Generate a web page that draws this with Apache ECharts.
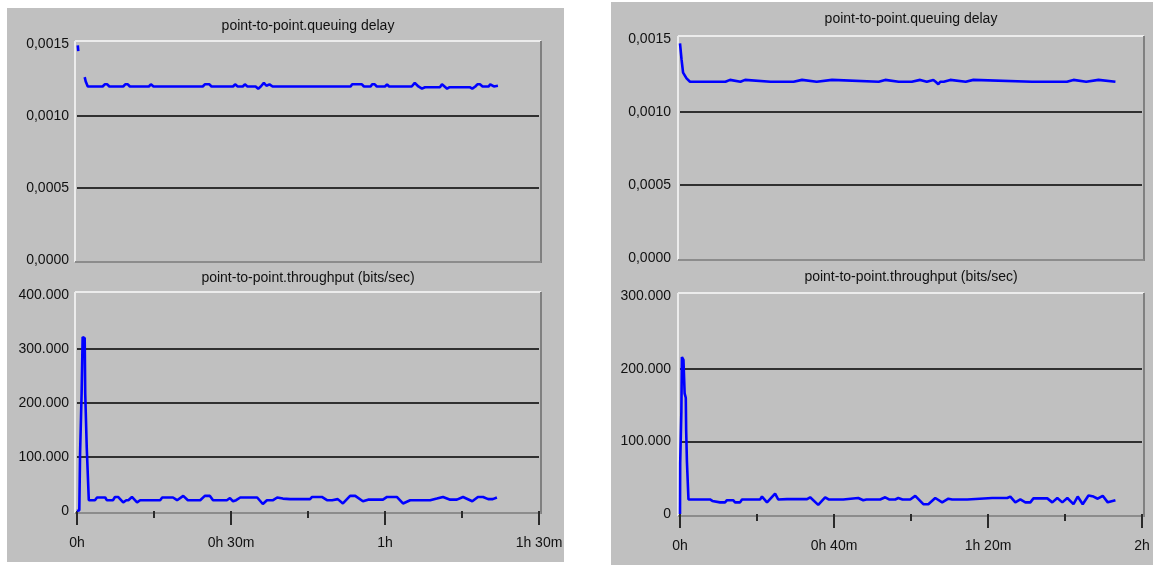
<!DOCTYPE html>
<html>
<head>
<meta charset="utf-8">
<title>point-to-point statistics</title>
<script src="https://cdn.jsdelivr.net/npm/echarts@6/dist/echarts.min.js"></script>
<style>
  html, body { margin: 0; padding: 0; background: #ffffff; }
  #chart { width: 1156px; height: 565px; }
</style>
</head>
<body>
<div id="chart"></div>
<script>
// ---- data: [minutes, value] ----
const delayLeft = [
  [0.15,0.00149],[0.25,0.00145],[0.6,null],
  [1.5,0.00127],[1.7,0.00124],[2.1,0.001205],
  [5.0,0.001205],[5.4,0.00122],[5.9,0.00122],[6.3,0.001205],
  [9.0,0.001205],[9.4,0.00122],[9.9,0.00122],[10.3,0.001205],
  [14.0,0.001205],[14.4,0.00122],[14.9,0.001205],
  [24.5,0.001205],[24.9,0.00122],[25.8,0.00122],[26.2,0.001205],
  [30.4,0.001205],[30.8,0.00122],[31.3,0.001205],
  [32.3,0.001205],[32.7,0.00122],[33.2,0.001205],
  [34.8,0.001205],[35.3,0.00119],[35.8,0.001205],[36.4,0.00123],[36.9,0.00121],[37.5,0.00122],[38.1,0.001205],
  [53.3,0.001205],[53.6,0.00122],[55.5,0.00122],[55.9,0.001205],
  [57.2,0.001205],[57.5,0.00122],[58.0,0.00122],[58.4,0.001205],
  [60.0,0.001205],[60.4,0.00122],[60.8,0.001205],
  [65.2,0.001205],[65.8,0.00123],[66.5,0.001205],[67.2,0.00119],[67.8,0.0012],
  [70.7,0.0012],[71.1,0.00122],[71.6,0.001205],[72.1,0.00119],[72.6,0.0012],
  [76.5,0.0012],[77.0,0.00119],[77.6,0.001205],[78.0,0.00122],[78.5,0.00122],[79.0,0.001205],
  [80.2,0.001205],[80.5,0.00122],[80.8,0.00122],[81.2,0.001205],[82.0,0.00121]
];
const tputLeft = [
  [0,0],[0.45,1500],[0.6,107000],[0.8,107000],[0.9,218000],[1.0,218000],[1.1,322000],[1.5,320000],
  [1.6,218000],[1.8,218000],[1.9,117000],[2.05,117000],[2.3,20000],
  [3.5,20000],[3.9,25000],[5.5,25000],[5.8,20000],[7.0,20000],[7.4,26000],[8.0,26000],[9.0,16000],
  [9.6,20000],[10.0,20000],[10.7,26000],[11.7,16000],[12.3,20000],[16.2,20000],[16.6,25000],[18.7,25000],
  [19.5,20000],[20.7,28000],[21.6,20000],[24.0,20000],[24.9,28000],[25.9,28000],[26.5,20000],[29.2,20000],
  [29.8,24000],[30.4,18000],[31.0,20000],[31.8,25000],[35.1,25000],[36.2,13000],[37.0,20000],[38.2,20000],
  [39.0,25000],[40.1,23000],[41.5,22000],[45.4,22000],[45.8,26000],[47.7,26000],[48.7,20000],[49.7,20000],
  [49.9,22000],[50.8,22000],[51.8,14000],[53.2,28000],[54.2,28000],[55.7,18000],[56.7,21000],[59.6,21000],
  [60.4,26000],[62.3,26000],[63.5,14000],[64.9,20000],[68.8,20000],[70.1,23000],[71.3,26000],[72.7,21000],
  [74.0,21000],[75.2,26000],[77.0,18000],[78.1,26000],[79.1,26000],[80.1,22000],[81.0,22000],[81.8,25000]
];
const delayRight = [
  [0,0.00147],[0.4,0.00136],[0.8,0.00127],[1.7,0.00123],[2.6,0.001207],
  [11.8,0.001207],[12.2,0.00122],[13.0,0.00122],[13.4,0.001207],
  [15.7,0.001207],[16.1,0.00122],[16.9,0.00122],[17.3,0.001207],
  [23.5,0.001207],[23.9,0.00122],[24.3,0.001207],
  [29.5,0.001207],[29.9,0.00122],[31.7,0.00122],[32.1,0.001207],
  [35.5,0.001207],[35.9,0.00122],[39.5,0.00122],[39.9,0.001207],
  [51.6,0.001207],[52.0,0.00122],[53.3,0.00122],[53.7,0.001207],
  [56.8,0.001207],[57.2,0.00122],[57.6,0.001207],
  [60.2,0.001207],[60.6,0.00122],[62.4,0.00122],[62.8,0.001207],
  [64.1,0.001207],[64.5,0.00122],[65.8,0.00122],[66.4,0.001207],[67.1,0.00119],[67.6,0.001207],
  [68.5,0.001207],[68.9,0.00122],[70.2,0.00122],[70.6,0.001207],
  [74.2,0.001207],[74.6,0.00122],[76.2,0.00122],[76.6,0.001207],
  [91.4,0.001207],[91.8,0.00122],[92.2,0.001207],
  [97.1,0.001207],[97.5,0.00122],[97.9,0.001207],
  [100.5,0.001207],[100.9,0.00122],[102.2,0.00122],[102.6,0.001207],
  [105.5,0.001207],[105.9,0.00122],[108.7,0.00122],[109.1,0.001207],
  [113.1,0.001207]
];
const tputRight = [
  [0,0],[0.05,70000],[0.35,140000],[0.5,216000],[0.9,212000],[1.2,166000],[1.5,160000],[1.6,115000],
  [1.8,72000],[2.0,72000],[2.2,20000],
  [7.8,20000],[8.4,18000],[10.4,16000],[11.7,16000],[12.2,19000],[13.8,19000],[14.3,16000],[15.6,16000],
  [16.1,20000],[20.8,20000],[21.3,24000],[22.6,16000],[24.7,28000],[25.5,20000],[27.8,20500],[33.0,20500],
  [33.8,23000],[35.9,12600],[37.7,23000],[38.6,20000],[42.4,20000],[42.9,22000],[46.3,22000],[47.6,19000],
  [48.4,20000],[52.0,20000],[53.3,23000],[54.3,20000],[55.9,20000],[56.7,22000],[57.8,20000],[59.8,20000],
  [61.1,25000],[63.2,13500],[64.5,13500],[66.3,22000],[68.1,16000],[69.7,21000],[70.7,20000],[74.6,20000],
  [74.9,22000],[81.1,22000],[81.4,24000],[82.4,22000],[85.0,22000],[85.8,24000],[87.1,16000],[88.4,20000],
  [89.7,16000],[91.0,16000],[91.8,21500],[95.4,21500],[96.7,16000],[98.0,22000],[99.3,16000],[100.6,22000],
  [102.2,13500],[103.3,24000],[104.6,13500],[106.1,25500],[107.4,24000],[108.5,21000],[109.8,25000],
  [111.1,16000],[113.1,19000]
];

// ---- axes / labels ----
const titleDelay = 'point-to-point.queuing delay';
const titleTput = 'point-to-point.throughput (bits/sec)';
const timeTicksLeft = ['0h', '0h 30m', '1h', '1h 30m'];   // every 30 min
const timeTicksRight = ['0h', '0h 40m', '1h 20m', '2h'];  // every 40 min
const delayGridLines = [0.0005, 0.0010];
const tputGridLinesLeft = [100000, 200000, 300000];
const tputGridLinesRight = [100000, 200000];

// ---- layout ----
const FONT = '"Liberation Sans", Arial, sans-serif';
const grids = [
  { left: 77,  top: 44,  width: 462, height: 216 },  // left delay
  { left: 77,  top: 295, width: 462, height: 216 },  // left throughput
  { left: 680, top: 39,  width: 462, height: 219 },  // right delay
  { left: 680, top: 296, width: 462, height: 218 }   // right throughput
];
const panels = [
  { x: 7,   y: 8, w: 557, h: 554 },
  { x: 611, y: 2, w: 542, h: 563 }
];

const graphics = [];
panels.forEach(p => graphics.push({
  type: 'rect', z: -20, silent: true,
  shape: { x: p.x, y: p.y, width: p.w, height: p.h },
  style: { fill: '#c0c0c0' }
}));
// raised frame round each plot area
grids.forEach(g => {
  const x0 = g.left - 2, y0 = g.top - 3;
  const x1 = g.left + g.width + 2, y1 = g.top + g.height + 2;
  const ln = (a, b, c, d, col) => graphics.push({
    type: 'line', z: -10, silent: true,
    shape: { x1: a, y1: b, x2: c, y2: d },
    style: { stroke: col, lineWidth: 2 }
  });
  ln(x0, y0, x1, y0, '#ececec');
  ln(x0, y0, x0, y1, '#ececec');
  ln(x1, y0, x1, y1 + 1, '#808080');
  ln(x0, y1, x1, y1, '#8c8c8c');
});

const fmtDelay = v => v.toFixed(4).replace('.', ',');
const fmtTput = v => v === 0 ? '0' : (v / 1000) + '.000';

function xAxisFor(gi, max, interval, labels, showLabels) {
  return {
    type: 'value', gridIndex: gi, min: 0, max: max, interval: interval,
    offset: showLabels ? 3 : 0,
    axisLine: { show: false },
    splitLine: { show: false },
    axisTick: { show: showLabels, length: 14, lineStyle: { color: '#2a2a2a', width: 2 } },
    minorTick: { show: showLabels, splitNumber: 2, length: 7, lineStyle: { color: '#2a2a2a', width: 2 } },
    axisLabel: {
      show: showLabels, margin: 22, color: '#111', fontSize: 14, fontFamily: FONT,
      formatter: v => labels[Math.round(v / interval)]
    }
  };
}
function yAxisFor(gi, max, interval, fmt, margin) {
  return {
    type: 'value', gridIndex: gi, min: 0, max: max, interval: interval,
    axisLine: { show: false }, axisTick: { show: false }, splitLine: { show: false },
    axisLabel: { margin: margin, color: '#111', fontSize: 14, fontFamily: FONT, formatter: fmt }
  };
}
function lineSeries(i, data, gridVals) {
  return {
    type: 'line', xAxisIndex: i, yAxisIndex: i, data: data, z: 10,
    showSymbol: false, connectNulls: false, animation: false,
    lineStyle: { color: '#0000ff', width: 2.6 },
    markLine: {
      silent: true, symbol: ['none', 'none'], label: { show: false }, animation: false,
      precision: 8,
      lineStyle: { color: '#000000', width: 1.6, type: 'solid' },
      data: gridVals.map(v => ({ yAxis: v }))
    }
  };
}

const titleStyle = { fontSize: 14, fontWeight: 'normal', color: '#111', fontFamily: FONT };
const option = {
  backgroundColor: '#ffffff',
  animation: false,
  title: [
    { text: titleDelay, left: 308, top: 19, textAlign: 'center', padding: 0, textStyle: titleStyle },
    { text: titleTput,  left: 308, top: 271, textAlign: 'center', padding: 0, textStyle: titleStyle },
    { text: titleDelay, left: 911, top: 12, textAlign: 'center', padding: 0, textStyle: titleStyle },
    { text: titleTput,  left: 911, top: 270, textAlign: 'center', padding: 0, textStyle: titleStyle }
  ],
  graphic: { elements: graphics },
  grid: grids,
  xAxis: [
    xAxisFor(0, 90, 30, timeTicksLeft, false),
    xAxisFor(1, 90, 30, timeTicksLeft, true),
    xAxisFor(2, 120, 40, timeTicksRight, false),
    xAxisFor(3, 120, 40, timeTicksRight, true)
  ],
  yAxis: [
    yAxisFor(0, 0.0015, 0.0005, fmtDelay, 8),
    yAxisFor(1, 400000, 100000, fmtTput, 8),
    yAxisFor(2, 0.0015, 0.0005, fmtDelay, 9),
    yAxisFor(3, 300000, 100000, fmtTput, 9)
  ],
  series: [
    lineSeries(0, delayLeft, delayGridLines),
    lineSeries(1, tputLeft, tputGridLinesLeft),
    lineSeries(2, delayRight, delayGridLines),
    lineSeries(3, tputRight, tputGridLinesRight)
  ]
};

const chart = echarts.init(document.getElementById('chart'), null, { renderer: 'canvas' });
chart.setOption(option);
</script>
</body>
</html>
